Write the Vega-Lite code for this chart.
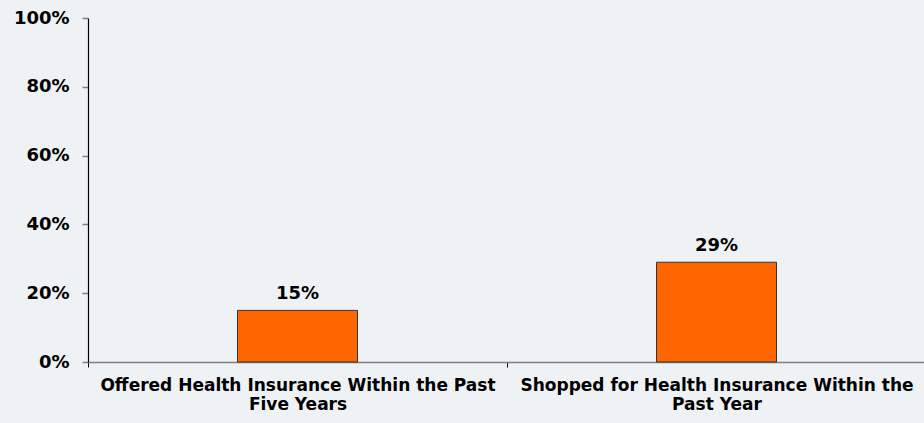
{
  "$schema": "https://vega.github.io/schema/vega-lite/v6.json",
  "width": 838,
  "height": 344,
  "autosize": {"type": "none"},
  "padding": {"left": 88, "top": 18, "right": -2, "bottom": 61},
  "background": "#eef2f5",
  "config": {
    "view": {"stroke": null},
    "font": "DejaVu Sans"
  },
  "data": {
    "values": [
      {"category": "Offered Health Insurance Within the Past Five Years", "value": 0.15},
      {"category": "Shopped for Health Insurance Within the Past Year", "value": 0.29}
    ]
  },
  "encoding": {
    "x": {
      "field": "category",
      "type": "nominal",
      "sort": null,
      "scale": {"paddingInner": 0, "paddingOuter": 0},
      "axis": {
        "title": null,
        "labelAngle": 0,
        "labelFont": "DejaVu Sans",
        "labelFontWeight": "bold",
        "labelFontSize": 17,
        "labelColor": "#000000",
        "labelLineHeight": 19,
        "labelPadding": 10,
        "labelLimit": 500,
        "tickOffset": -209.5,
        "labelOffset": 209.5,
        "tickColor": "#000000",
        "tickSize": 5,
        "domainColor": "#808080",
        "domainWidth": 1.5,
        "labelExpr": "datum.label == 'Offered Health Insurance Within the Past Five Years' ? ['Offered Health Insurance Within the Past', 'Five Years'] : ['Shopped for Health Insurance Within the', 'Past Year']"
      }
    },
    "y": {
      "field": "value",
      "type": "quantitative",
      "scale": {"domain": [0, 1]},
      "axis": {
        "title": null,
        "format": ".0%",
        "values": [0, 0.2, 0.4, 0.6, 0.8, 1],
        "grid": false,
        "labelFont": "DejaVu Sans",
        "labelFontWeight": "bold",
        "labelFontSize": 18,
        "labelColor": "#000000",
        "labelPadding": 13,
        "tickColor": "#808080",
        "tickSize": 6,
        "tickWidth": 1.5,
        "domainColor": "#000000",
        "domainWidth": 1.2
      }
    }
  },
  "layer": [
    {
      "mark": {"type": "bar", "width": 120, "fill": "#ff6600", "stroke": "#333333", "strokeWidth": 1}
    },
    {
      "mark": {"type": "text", "baseline": "bottom", "dy": -7, "font": "DejaVu Sans", "fontWeight": "bold", "fontSize": 18, "color": "#000000"},
      "encoding": {
        "text": {"field": "value", "type": "quantitative", "format": ".0%"}
      }
    }
  ]
}
